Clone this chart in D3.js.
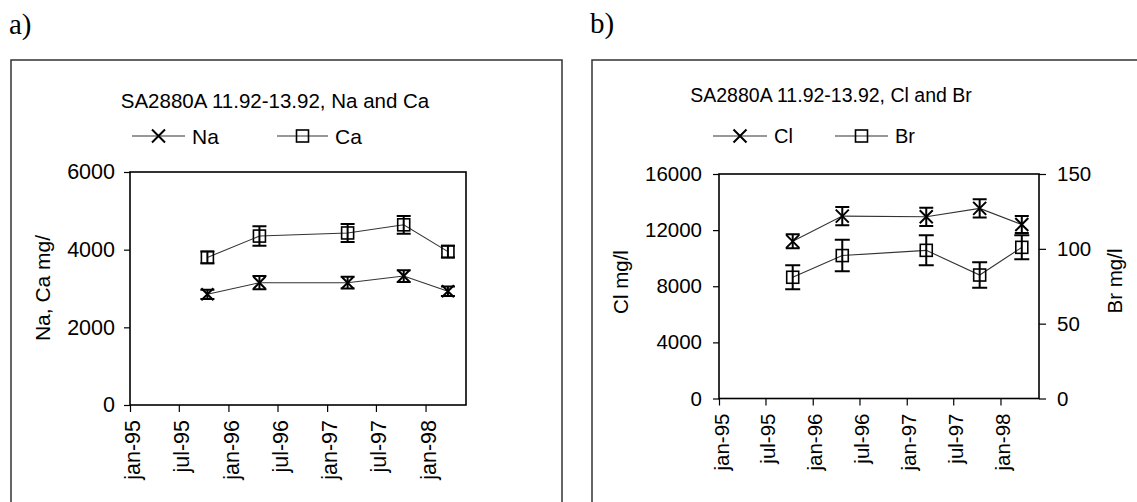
<!DOCTYPE html>
<html>
<head>
<meta charset="utf-8">
<script src="https://cdn.jsdelivr.net/npm/d3@7/dist/d3.min.js"></script>
<style>
  body { margin: 0; background: #fff; }
  svg { display: block; font-family: "Liberation Sans", Arial, sans-serif; }
</style>
</head>
<body>
<div id="chart"></div>
<script>
// sampling dates (same for both panels)
const dates = ["1995-10-15", "1996-04-25", "1997-03-18", "1997-10-12", "1998-03-25"];
const tickDates = ["1995-01-01", "1995-07-01", "1996-01-01", "1996-07-01", "1997-01-01", "1997-07-01", "1998-01-01"];
const tickLabels = ["jan-95", "jul-95", "jan-96", "jul-96", "jan-97", "jul-97", "jan-98"];

// panel a
const naVals = [2850, 3150, 3150, 3320, 2930];
const naErr  = [120, 170, 150, 150, 120];
const caVals = [3800, 4350, 4430, 4640, 3950];
const caErr  = [150, 250, 230, 230, 150];
const yTicksA = [0, 2000, 4000, 6000];

// panel b
const clVals = [11200, 13000, 12950, 13550, 12400];
const clErr  = [500, 650, 650, 650, 600];
const brVals = [81, 95.5, 99, 82.5, 101];
const brErr  = [8, 10.5, 10, 8.5, 8];
const yTicksB = [0, 4000, 8000, 12000, 16000];
const yTicksBr = [0, 50, 100, 150];

const parse = d3.timeParse("%Y-%m-%d");
const xDomain = [parse("1995-01-01"), parse("1998-05-31")];

const svg = d3.select("#chart").append("svg")
  .attr("width", 1137).attr("height", 502);

// panel labels
svg.append("text").attr("x", 9).attr("y", 34)
  .style("font-family", "'Liberation Serif', 'Times New Roman', serif")
  .style("font-size", "29px").text("a)");
svg.append("text").attr("x", 590).attr("y", 33)
  .style("font-family", "'Liberation Serif', 'Times New Roman', serif")
  .style("font-size", "29px").text("b)");

// outer frames
svg.append("rect").attr("x", 11).attr("y", 60).attr("width", 551).attr("height", 470)
  .attr("fill", "none").attr("stroke", "#333").attr("stroke-width", 1.5);
svg.append("rect").attr("x", 592).attr("y", 60).attr("width", 600).attr("height", 470)
  .attr("fill", "none").attr("stroke", "#333").attr("stroke-width", 1.5);

function markerX(g, cx, cy, s) {
  g.append("path")
    .attr("d", `M${cx - s},${cy - s}L${cx + s},${cy + s}M${cx - s},${cy + s}L${cx + s},${cy - s}`)
    .attr("stroke", "#000").attr("stroke-width", 2).attr("fill", "none");
}
function markerSq(g, cx, cy, s) {
  g.append("rect").attr("x", cx - s).attr("y", cy - s).attr("width", 2 * s).attr("height", 2 * s)
    .attr("stroke", "#000").attr("stroke-width", 1.6).attr("fill", "none");
}

function drawSeries(g, x, y, vals, errs, kind, capW, ms) {
  const pts = vals.map((v, i) => ({d: parse(dates[i]), v: v, e: errs[i]}));
  g.append("path")
    .datum(pts)
    .attr("d", d3.line().x(d => x(d.d)).y(d => y(d.v)))
    .attr("fill", "none").attr("stroke", "#333").attr("stroke-width", 1.1);
  pts.forEach(p => {
    const cx = x(p.d), y1 = y(p.v + p.e), y2 = y(p.v - p.e);
    g.append("path")
      .attr("d", `M${cx},${y1}L${cx},${y2}M${cx - capW},${y1}L${cx + capW},${y1}M${cx - capW},${y2}L${cx + capW},${y2}`)
      .attr("stroke", "#000").attr("stroke-width", 2).attr("fill", "none");
    if (kind === "x") markerX(g, cx, y(p.v), ms);
    else markerSq(g, cx, y(p.v), ms);
  });
}

function legendItem(x0, x1, ly, kind, label, fs) {
  svg.append("line").attr("x1", x0).attr("x2", x1).attr("y1", ly).attr("y2", ly)
    .attr("stroke", "#333").attr("stroke-width", 1.1);
  const cx = (x0 + x1) / 2;
  if (kind === "x") markerX(svg, cx, ly, 6.5);
  else markerSq(svg, cx, ly, 6);
  svg.append("text").attr("x", x1 + 7).attr("y", ly).attr("dy", "0.36em")
    .style("font-size", fs + "px").text(label);
}

function xAxis(g, x, yBase, fs) {
  const ax = g.append("g").attr("transform", `translate(0,${yBase})`)
    .call(d3.axisBottom(x).tickValues(tickDates.map(parse)).tickSize(7)
      .tickFormat((d, i) => tickLabels[i]));
  ax.select(".domain").remove();
  ax.selectAll(".tick line").attr("stroke", "#000").attr("stroke-width", 1.2);
  ax.selectAll("text")
    .attr("transform", "rotate(-90)")
    .attr("x", -15).attr("y", 0).attr("dy", "0.45em")
    .style("text-anchor", "end")
    .style("font-size", fs + "px")
    .style("font-family", "'Liberation Sans', Arial, sans-serif")
    .attr("fill", "#000");
}

function yAxisStyle(ax, fs) {
  ax.select(".domain").remove();
  ax.selectAll(".tick line").attr("stroke", "#000").attr("stroke-width", 1.2);
  ax.selectAll("text").style("font-size", fs + "px")
    .style("font-family", "'Liberation Sans', Arial, sans-serif").attr("fill", "#000");
}

// ---------- panel a ----------
{
  const L = 130, R = 466, T = 172, B = 405;
  const x = d3.scaleTime().domain(xDomain).range([L, R]);
  const y = d3.scaleLinear().domain([0, 6000]).range([B, T]);

  svg.append("text").attr("x", 275).attr("y", 108).attr("text-anchor", "middle")
    .style("font-size", "20.5px").text("SA2880A 11.92-13.92, Na and Ca");

  legendItem(132, 185, 136, "x", "Na", 21);
  legendItem(277, 328, 136, "sq", "Ca", 21);

  const ay = svg.append("g").attr("transform", `translate(${L},0)`)
    .call(d3.axisLeft(y).tickValues(yTicksA).tickFormat(d3.format("d")).tickSize(6).tickPadding(9));
  yAxisStyle(ay, 21.5);

  xAxis(svg, x, B, 21.5);

  svg.append("rect").attr("x", L).attr("y", T).attr("width", R - L).attr("height", B - T)
    .attr("fill", "none").attr("stroke", "#000").attr("stroke-width", 1.6);

  svg.append("text").attr("transform", `translate(50,288) rotate(-90)`)
    .attr("text-anchor", "middle").style("font-size", "21px").text("Na, Ca mg/");

  const g = svg.append("g");
  drawSeries(g, x, y, caVals, caErr, "sq", 7, 6);
  drawSeries(g, x, y, naVals, naErr, "x", 7, 6);
}

// ---------- panel b ----------
{
  const L = 719, R = 1039, T = 174, B = 398.5;
  const x = d3.scaleTime().domain(xDomain).range([L, R]);
  const y = d3.scaleLinear().domain([0, 16000]).range([B, T]);
  const y2 = d3.scaleLinear().domain([0, 150]).range([B, T]);

  svg.append("text").attr("x", 831).attr("y", 102).attr("text-anchor", "middle")
    .style("font-size", "19.5px").text("SA2880A 11.92-13.92, Cl and Br");

  legendItem(713, 767, 136, "x", "Cl", 20);
  legendItem(835, 888, 136, "sq", "Br", 20);

  const ay = svg.append("g").attr("transform", `translate(${L},0)`)
    .call(d3.axisLeft(y).tickValues(yTicksB).tickFormat(d3.format("d")).tickSize(6).tickPadding(11));
  yAxisStyle(ay, 20.5);

  const ay2 = svg.append("g").attr("transform", `translate(${R},0)`)
    .call(d3.axisRight(y2).tickValues(yTicksBr).tickFormat(d3.format("d")).tickSize(7).tickPadding(11));
  yAxisStyle(ay2, 20.5);

  xAxis(svg, x, B, 20.5);

  svg.append("rect").attr("x", L).attr("y", T).attr("width", R - L).attr("height", B - T)
    .attr("fill", "none").attr("stroke", "#000").attr("stroke-width", 1.6);

  svg.append("text").attr("transform", `translate(628,282) rotate(-90)`)
    .attr("text-anchor", "middle").style("font-size", "20.5px").text("Cl mg/l");
  svg.append("text").attr("transform", `translate(1122,281) rotate(-90)`)
    .attr("text-anchor", "middle").style("font-size", "20.5px").text("Br mg/l");

  const g = svg.append("g");
  drawSeries(g, x, y2, brVals, brErr, "sq", 7.5, 6);
  drawSeries(g, x, y, clVals, clErr, "x", 7, 6.5);
}
</script>
</body>
</html>
